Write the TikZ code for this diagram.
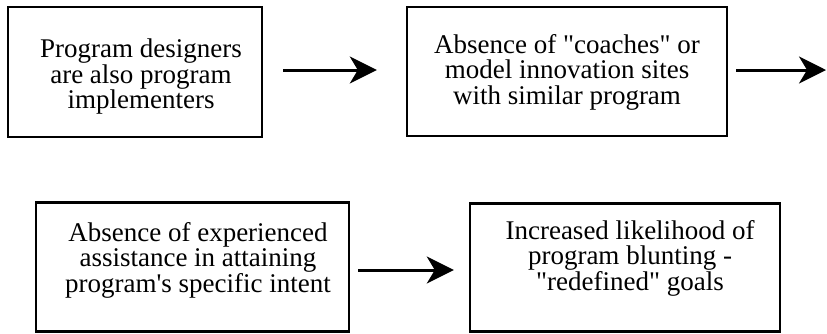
\documentclass[tikz,border=0pt]{standalone}
\usepackage{fontspec}
\setmainfont{Liberation Serif}
\usetikzlibrary{arrows.meta}
\begin{document}
\begin{tikzpicture}[x=1pt,y=-1pt,
  frame/.style={draw, line width=2.4pt, inner sep=0pt},
  caption/.style={align=center, inner sep=0pt,
    font=\fontsize{27}{25.5}\selectfont},
  arr/.style={line width=3pt,
    -{Stealth[length=27pt, width=27pt, inset=8pt]}}]
  \useasboundingbox (0,0) rectangle (827,333);
  % boxes
  \node[frame, minimum width=254pt, minimum height=130pt] (b1) at (135,72) {};
  \node[frame, minimum width=320pt, minimum height=129pt] (b2) at (567,71.5) {};
  \node[frame, minimum width=313pt, minimum height=129pt] (b3) at (192.5,267) {};
  \node[frame, minimum width=310pt, minimum height=128pt] (b4) at (625,267.5) {};
  % texts
  \node[caption] (t1) at (141,77) {Program designers\\are also program\\implementers};
  \node[caption] (t2) at (567,72) {Absence of \textquotedbl coaches\textquotedbl{} or\\model innovation sites\\with similar program};
  \node[caption] (t3) at (198,260) {Absence of experienced\\assistance in attaining\\program\textquotesingle s specific intent};
  \node[caption] (t4) at (630,258) {Increased likelihood of\\program blunting -\\\textquotedbl redefined\textquotedbl{} goals};
  % arrows
  \coordinate (out) at (826,70);
  \draw[arr, shorten <=20pt, shorten >=29pt] (b1.east |- out) -- (b2.west |- out);
  \draw[arr, shorten <=8pt] (b2.east |- out) -- (out);
  \draw[arr, shorten <=8pt, shorten >=15pt] (b3.east |- 0,270) -- (b4.west |- 0,270);
\end{tikzpicture}
\end{document}
